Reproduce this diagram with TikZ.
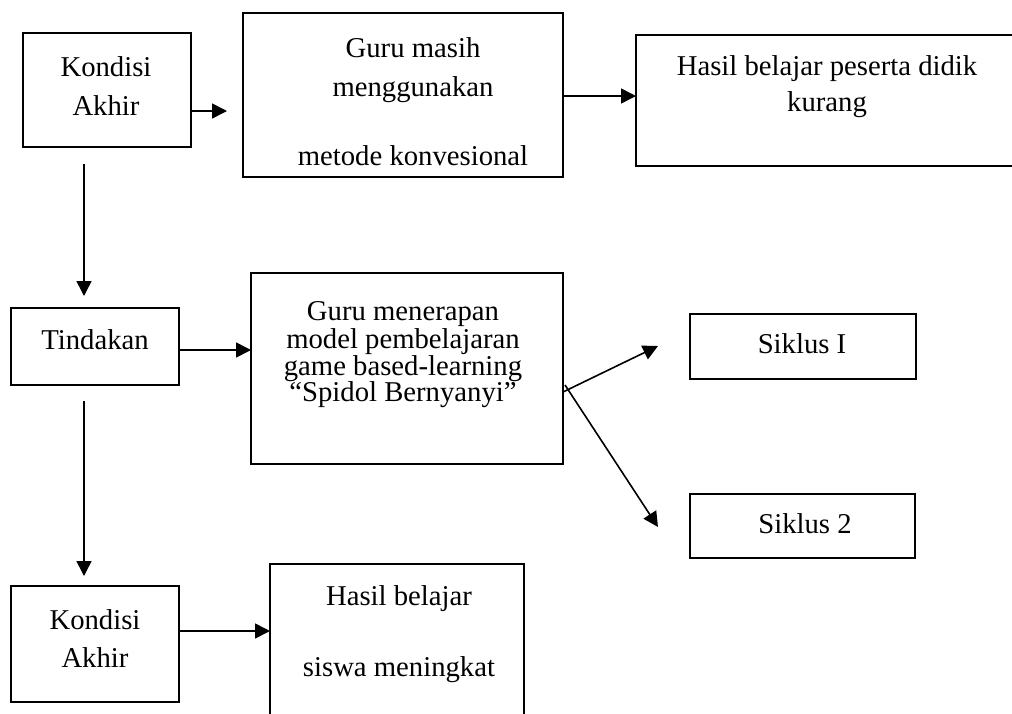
\documentclass[tikz,border=0pt]{standalone}
\usepackage{fontspec}
\setmainfont{Liberation Serif}
\usetikzlibrary{arrows.meta}
\begin{document}
\begin{tikzpicture}[x=1pt,y=-1pt,
  box/.style={draw=black, line width=1.8pt, inner sep=0pt, outer sep=0pt},
  txt/.style={anchor=base, inner sep=0pt, font=\fontsize{28.7}{30}\selectfont},
  arr/.style={draw=black, line width=1.6pt, -{Triangle[length=15pt,width=15pt]}}]
\clip (0,0) rectangle (1012,713);
\fill[white] (0,0) rectangle (1012,713);
% boxes
\node[box, minimum width=168pt, minimum height=114pt] (k1) at (107,90) {};
\node[box, minimum width=320pt, minimum height=164pt] (b2) at (403,95) {};
\node[box, minimum width=380pt, minimum height=131pt] (b3) at (826,100.5) {};
\node[box, minimum width=168pt, minimum height=77pt] (t) at (95,346.5) {};
\node[box, minimum width=312pt, minimum height=191pt] (b5) at (407,368.5) {};
\node[box, minimum width=226pt, minimum height=65pt] (s1) at (803,346.5) {};
\node[box, minimum width=225pt, minimum height=64pt] (s2) at (802.5,526) {};
\node[box, minimum width=168pt, minimum height=116pt] (k2) at (95,644) {};
\node[box, minimum width=254pt, minimum height=166pt] (b7) at (397,647) {};
% texts
\node[txt] (k1a) at (106,76) {Kondisi};
\node[txt] (k1b) at (106,115) {Akhir};
\node[txt] (b2a) at (413,57) {Guru masih};
\node[txt] (b2b) at (413,96) {menggunakan};
\node[txt] (b2c) at (413,165) {metode konvesional};
\node[txt] (b3a) at (827,75) {Hasil belajar peserta didik};
\node[txt] (b3b) at (827,111) {kurang};
\node[txt] (ta) at (95,349) {Tindakan};
\node[txt] (b5a) at (403,320) {Guru menerapan};
\node[txt] (b5b) at (403,348) {model pembelajaran};
\node[txt] (b5c) at (403,375) {game based-learning};
\node[txt] (b5d) at (403,401) {``Spidol Bernyanyi''};
\node[txt] (s1a) at (802,353) {Siklus I};
\node[txt] (s2a) at (805,533) {Siklus 2};
\node[txt] (k2a) at (95,629) {Kondisi};
\node[txt] (k2b) at (95,667) {Akhir};
\node[txt] (b7a) at (399,605) {Hasil belajar};
\node[txt] (b7b) at (399,676) {siswa meningkat};
% free ends
\coordinate (a1e) at (227,111);
\coordinate (v1s) at (84,164);
\coordinate (v1e) at (84,296);
\coordinate (d1s) at (563,392);
\coordinate (d1e) at (658,346);
\coordinate (d2s) at (565,385);
\coordinate (d2e) at (658,527);
\coordinate (v2s) at (84,401);
\coordinate (v2e) at (84,576);
% connectors
\draw[arr] (k1.east |- 0,111) -- (a1e);
\draw[arr] (b2.east |- 0,96) -- (b3.west |- 0,96);
\draw[arr] (v1s) -- (v1e);
\draw[arr] (t.east |- 0,350) -- (b5.west |- 0,350);
\draw[arr] (d1s) -- (d1e);
\draw[arr] (d2s) -- (d2e);
\draw[arr] (v2s) -- (v2e);
\draw[arr] (k2.east |- 0,631) -- (b7.west |- 0,631);
\end{tikzpicture}
\end{document}
